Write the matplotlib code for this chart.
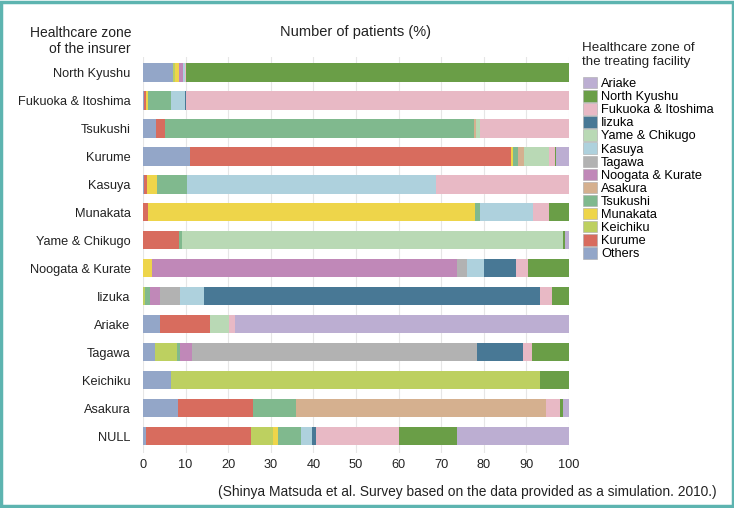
import numpy as np
import matplotlib.pyplot as plt
from matplotlib.patches import Rectangle

plt.rcParams['font.family'] = ['Liberation Sans', 'DejaVu Sans']

# insurer zones (rows, top to bottom)
insurers = ['North Kyushu', 'Fukuoka & Itoshima', 'Tsukushi', 'Kurume', 'Kasuya',
            'Munakata', 'Yame & Chikugo', 'Noogata & Kurate', 'Iizuka', 'Ariake',
            'Tagawa', 'Keichiku', 'Asakura', 'NULL']

# treating facility zones, in stacking order (left to right)
zones = ['Others', 'Kurume', 'Keichiku', 'Munakata', 'Tsukushi', 'Asakura',
         'Noogata & Kurate', 'Tagawa', 'Kasuya', 'Yame & Chikugo', 'Iizuka',
         'Fukuoka & Itoshima', 'North Kyushu', 'Ariake']

colors = ['#93a6c8', '#d86c5e', '#bdd060', '#eed54a', '#80b98e', '#d5b08f',
          '#c088b8', '#b2b2b2', '#aed1dd', '#b9d9b5', '#487895',
          '#e8b9c5', '#6a9e47', '#bcaed2']

# percent values per facility zone, one entry per insurer row
others    = [7.1, 0.3, 3.0, 11.1, 0.3, 0.0, 0.0, 0.0, 0.0, 4.1, 2.8, 6.6, 8.2, 0.6]
kurume    = [0.0, 0.3, 2.2, 75.2, 0.6, 1.2, 8.4, 0.0, 0.0, 11.7, 0.0, 0.0, 17.7, 24.8]
keichiku  = [0.5, 0.0, 0.0, 0.0, 0.0, 0.0, 0.0, 0.0, 0.5, 0.0, 5.2, 86.6, 0.0, 5.2]
munakata  = [0.8, 0.5, 0.0, 0.5, 2.5, 76.8, 0.0, 2.1, 0.0, 0.0, 0.0, 0.0, 0.0, 1.0]
tsukushi  = [0.0, 5.5, 72.6, 1.2, 6.9, 1.2, 0.8, 0.0, 1.1, 0.0, 0.6, 0.0, 10.0, 5.4]
asakura   = [0.0, 0.0, 0.4, 1.5, 0.0, 0.0, 0.0, 0.0, 0.0, 0.0, 0.0, 0.0, 58.6, 0.0]
noogata   = [1.0, 0.0, 0.0, 0.0, 0.0, 0.0, 0.0, 71.7, 2.3, 0.0, 2.9, 0.0, 0.0, 0.0]
tagawa    = [0.0, 0.0, 0.0, 0.0, 0.0, 0.0, 0.0, 2.2, 4.9, 0.0, 66.8, 0.0, 0.0, 0.0]
kasuya    = [0.4, 3.3, 0.0, 0.0, 58.5, 12.4, 0.0, 4.1, 5.6, 0.0, 0.0, 0.0, 0.0, 2.6]
yame      = [0.0, 0.0, 0.8, 5.9, 0.0, 0.0, 89.3, 0.0, 0.0, 4.3, 0.0, 0.0, 0.0, 0.0]
iizuka    = [0.0, 0.2, 0.0, 0.0, 0.0, 0.0, 0.0, 7.5, 78.9, 0.0, 10.8, 0.0, 0.0, 0.9]
fukuoka   = [0.3, 89.9, 21.0, 1.2, 31.2, 3.8, 0.0, 2.7, 2.6, 1.4, 2.2, 0.0, 3.4, 19.7]
nkyushu   = [89.9, 0.0, 0.0, 0.3, 0.0, 4.6, 0.6, 9.7, 4.1, 0.0, 8.7, 6.8, 0.6, 13.6]
ariake    = [0.0, 0.0, 0.0, 3.1, 0.0, 0.0, 0.9, 0.0, 0.0, 78.5, 0.0, 0.0, 1.5, 26.2]

series = [others, kurume, keichiku, munakata, tsukushi, asakura, noogata,
          tagawa, kasuya, yame, iizuka, fukuoka, nkyushu, ariake]

fig = plt.figure(figsize=(7.34, 5.08), dpi=100)
ax = fig.add_axes([143/734, 1 - 453/508, 426/734, 396/508])

y = np.arange(len(insurers))
left = np.zeros(len(insurers))
handles = []
for name, vals, col in zip(zones, series, colors):
    vals = np.array(vals)
    b = ax.barh(y, vals, left=left, height=0.655, color=col, label=name)
    handles.append(b)
    left += vals

ax.set_xlim(0, 100)
ax.set_ylim(13.6, -0.55)
ax.set_yticks(y)
ax.set_yticklabels(insurers, fontsize=9.2, color='#222222')
ax.set_xticks(np.arange(0, 101, 10))
ax.tick_params(axis='both', length=0, labelsize=9.2, colors='#222222')
ax.tick_params(axis='y', pad=9)
ax.tick_params(axis='x', pad=4)
for s in ax.spines.values():
    s.set_visible(False)
ax.set_axisbelow(True)
ax.grid(axis='x', color='#e6e6e6', linewidth=0.8)

fig.text(131/734, 1 - 26/508, 'Healthcare zone\nof the insurer', ha='right', va='top',
         fontsize=10, color='#222222', linespacing=1.2)
fig.text(356/734, 1 - 32/508, 'Number of patients (%)', ha='center', va='center',
         fontsize=10.5, color='#222222')

fig.text(582/734, 1 - 42/508, 'Healthcare zone of\nthe treating facility', ha='left',
         va='top', fontsize=9.6, color='#222222', linespacing=1.2)
leg = fig.legend(handles[::-1], zones[::-1], loc='upper left',
                 bbox_to_anchor=(583/734, 1 - 77/508), frameon=False,
                 fontsize=9.2, labelspacing=0.0, handleheight=1.0,
                 handlelength=1.1, handletextpad=0.3, borderpad=0, borderaxespad=0)
for p in leg.get_patches():
    p.set_edgecolor('#aaaaaa')
    p.set_linewidth(0.4)

fig.text(717/734, 1 - 492/508,
         '(Shinya Matsuda et al. Survey based on the data provided as a simulation. 2010.)',
         ha='right', va='center', fontsize=9.9, color='#222222')

fig.patches.append(Rectangle((0.002, 0.003), 0.996, 0.994, transform=fig.transFigure,
                             fill=False, edgecolor='#5db4b0', linewidth=2.5))

fig.savefig('out.png', dpi=100)
